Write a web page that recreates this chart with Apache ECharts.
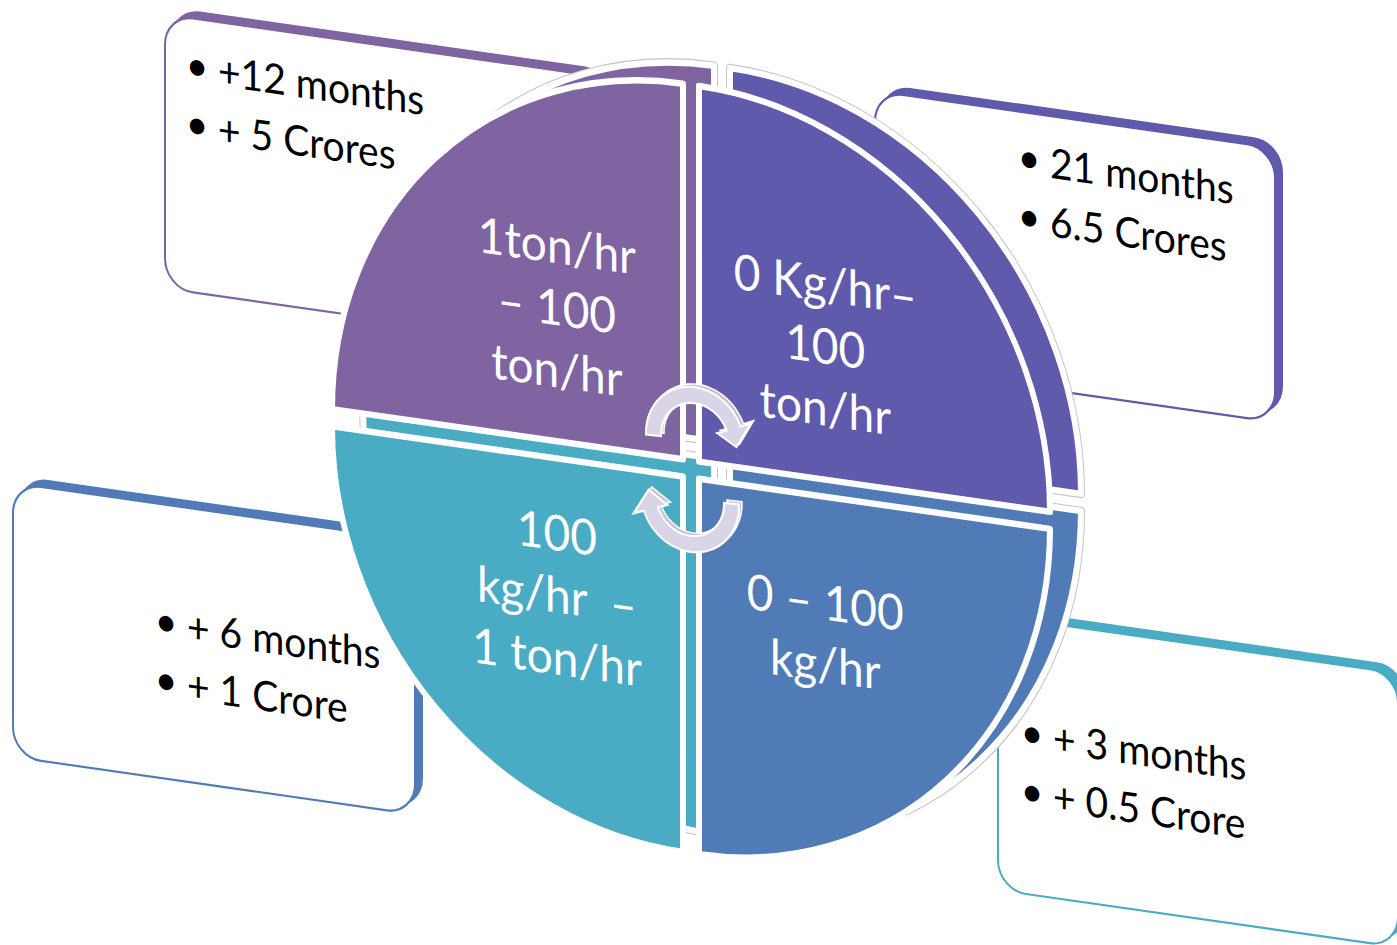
<!DOCTYPE html>
<html>
<head>
<meta charset="utf-8">
<script src="https://cdn.jsdelivr.net/npm/echarts@6/dist/echarts.min.js"></script>
<style>
  html, body { margin: 0; padding: 0; background: #ffffff; overflow: hidden; width: 1397px; height: 945px; }
  #chart { position: absolute; left: 0; top: 0; width: 1397px; height: 945px;
           transform-origin: 0 0; transform: matrix(1, 0.143, 0, 1.07, 0, -100.6); }
</style>
</head>
<body>
<div id="chart"></div>
<script>
// ---- data (quadrants listed clockwise from top-right) ----
const sliceNames  = ['0 Kg/hr–\n100\nton/hr', '0 – 100\nkg/hr', '100\nkg/hr  –\n1 ton/hr', '1ton/hr\n– 100\nton/hr'];
const sliceValues = [25, 25, 25, 25];
const sliceColors = ['#5F5AAB', '#507BB7', '#4AABC5', '#8064A2'];
const boxColors   = ['#5F5AAB', '#4AABC5', '#507BB7', '#8064A2'];
const boxLines = [
  ['21 months', '6.5 Crores'],
  ['+ 3 months', '+ 0.5 Crore'],
  ['+ 6 months', '+ 1 Crore'],
  ['+12 months', '+ 5 Crores']
];

// ---- layout (plane coordinates before the perspective skew) ----
const PIE_C = [691, 440];
const PIE_R = 351;
const DEPTH = [31, -20.9];
const boxRects = [[875, 62.1, 400], [998, 536.4, 400], [13, 543.6, 402], [165, 85.5, 440]];
const BOX_H = 256;
const textAnchors = [[1050, 105], [1053, 642], [187, 653.5], [218, 130]];
const LINE_GAP = 54.5;
const labelPad = [22, 13, 13, 24];

const chart = echarts.init(document.getElementById('chart'), null, { renderer: 'svg' });

const graphics = [];
boxRects.forEach(function (b, i) {
  const col = boxColors[i];
  graphics.push({ type: 'rect', z: 1, silent: true,
    shape: { x: b[0] + 7, y: b[1] - 6.5, width: b[2], height: BOX_H, r: 28 },
    style: { fill: col, stroke: col, lineWidth: 2 } });
  graphics.push({ type: 'rect', z: 2, silent: true,
    shape: { x: b[0], y: b[1], width: b[2], height: BOX_H, r: 28 },
    style: { fill: '#ffffff', stroke: col, lineWidth: 2 } });
  boxLines[i].forEach(function (t, j) {
    const tx = textAnchors[i][0], ty = textAnchors[i][1] + j * LINE_GAP;
    graphics.push({ type: 'text', z: 3, silent: true, x: tx - 21, y: ty - 2,
      style: { text: '•', fill: '#000', fontSize: 39, fontFamily: 'Lato', align: 'center', verticalAlign: 'middle' } });
    graphics.push({ type: 'text', z: 3, silent: true, x: tx, y: ty,
      style: { text: t, fill: '#000', fontSize: 39, fontFamily: 'Lato', align: 'left', verticalAlign: 'middle' } });
  });
});

function arrowPts(cx, cy, r1, r2, a0, a1, at, h1, h2) {
  const pts = [], n = 48, rad = Math.PI / 180;
  for (let i = 0; i <= n; i++) { const a = (a0 + (a1 - a0) * i / n) * rad; pts.push([cx + r2 * Math.cos(a), cy + r2 * Math.sin(a)]); }
  pts.push([cx + h2 * Math.cos(a1 * rad), cy + h2 * Math.sin(a1 * rad)]);
  const rm = (r1 + r2) / 2;
  pts.push([cx + rm * Math.cos(at * rad), cy + rm * Math.sin(at * rad)]);
  pts.push([cx + h1 * Math.cos(a1 * rad), cy + h1 * Math.sin(a1 * rad)]);
  for (let i = n; i >= 0; i--) { const a = (a0 + (a1 - a0) * i / n) * rad; pts.push([cx + r1 * Math.cos(a), cy + r1 * Math.sin(a)]); }
  return pts;
}
const arrows = [
  [695, 412, 178, 338, 362],
  [690, 468.5, -2, 160, 185]
];
arrows.forEach(function (a) {
  graphics.push({ type: 'polygon', z: 20, silent: true,
    shape: { points: arrowPts(a[0] + 3, a[1] - 3, 34, 49, a[2], a[3], a[4], 24, 60) },
    style: { fill: '#C7BFD8', stroke: '#ffffff', lineWidth: 1.5 } });
  graphics.push({ type: 'polygon', z: 21, silent: true,
    shape: { points: arrowPts(a[0], a[1], 34, 49, a[2], a[3], a[4], 24, 60) },
    style: { fill: '#DAD5E6', stroke: '#ffffff', lineWidth: 2 } });
});

function pieData(withColor, withLabel) {
  return sliceValues.map(function (v, i) {
    const d = { value: v, name: sliceNames[i], selected: true };
    if (withColor) d.itemStyle = { color: sliceColors[i] };
    if (withLabel) d.label = { padding: [labelPad[i], 0, 0, 0] };
    return d;
  });
}
const pieBase = {
  type: 'pie', radius: [0, PIE_R], startAngle: 90, clockwise: true,
  selectedMode: 'multiple', selectedOffset: 11.3, silent: true, animation: false,
  avoidLabelOverlap: false, emphasis: { disabled: true }, labelLine: { show: false }
};

chart.setOption({
  backgroundColor: '#ffffff',
  animation: false,
  graphic: { elements: graphics },
  series: [
    Object.assign({}, pieBase, { name: 'outline', z: 5,
      center: [PIE_C[0] + DEPTH[0], PIE_C[1] + DEPTH[1]], data: pieData(false, false),
      itemStyle: { color: '#ffffff', borderColor: '#C4C4C4', borderWidth: 8 }, label: { show: false } }),
    Object.assign({}, pieBase, { name: 'depth', z: 6,
      center: [PIE_C[0] + DEPTH[0], PIE_C[1] + DEPTH[1]], data: pieData(true, false),
      itemStyle: { borderColor: '#ffffff', borderWidth: 6 }, label: { show: false } }),
    Object.assign({}, pieBase, { name: 'face', z: 7,
      center: PIE_C, data: pieData(true, true),
      itemStyle: { borderColor: '#ffffff', borderWidth: 6 },
      label: { show: true, position: 'inside', formatter: '{b}', color: '#ffffff',
               fontFamily: 'Lato', fontSize: 46, lineHeight: 58, align: 'center' } })
  ]
});
</script>
</body>
</html>
